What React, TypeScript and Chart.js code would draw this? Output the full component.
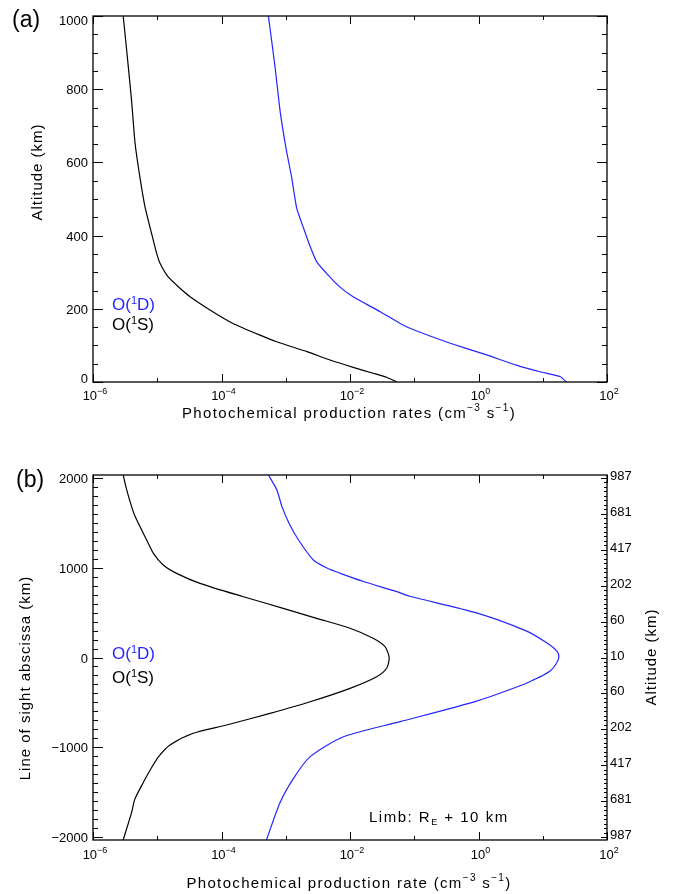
import React, { useEffect, useRef } from "react";
import { Chart, registerables } from "chart.js";

Chart.register(...registerables);

// ---------- data ----------
// Panel (a): altitude (km) vs photochemical production rate (cm^-3 s^-1)
const altS_a = [1000, 907, 770, 653, 560, 478, 407, 352, 325, 287, 256, 233, 197, 160, 128, 110, 83, 60, 40, 24, 13, 0];
const rateS_a = [2.95e-6, 3.34e-6, 3.98e-6, 4.51e-6, 5.37e-6, 6.46e-6, 8.13e-6, 9.77e-6, 1.1e-5, 1.48e-5, 2.26e-5, 3.24e-5, 6.61e-5, 1.51e-4, 3.98e-4, 7.24e-4, 2.14e-3, 4.9e-3, 1.12e-2, 2.29e-2, 3.72e-2, 5.37e-2];

const altD_a = [1000, 861, 743, 634, 561, 475, 424, 370, 329, 292, 260, 233, 192, 160, 142, 106, 74, 46, 28, 15, 0];
const rateD_a = [5.37e-4, 6.81e-4, 8.13e-4, 1.02e-3, 1.23e-3, 1.48e-3, 1.86e-3, 2.4e-3, 3.02e-3, 4.57e-3, 6.92e-3, 1.12e-2, 2.95e-2, 6.03e-2, 0.1, 0.363, 1.34, 3.89, 9.06, 18.6, 23.4];

// Panel (b): line of sight abscissa (km) vs production rate
const losS_b = [2030, 1867, 1681, 1570, 1307, 1159, 1029, 936, 825, 676, 547, 436, 325, 214, 120, 0, -120, -214, -343, -492, -621, -751, -843, -973, -1103, -1251, -1393, -1578, -1726, -2030];
const rateS_b = [2.95e-6, 3.34e-6, 3.98e-6, 4.51e-6, 6.85e-6, 8.71e-6, 1.24e-5, 2.0e-5, 4.62e-5, 2.19e-4, 9.12e-4, 3.02e-3, 1.0e-2, 2.29e-2, 3.51e-2, 4.07e-2, 3.72e-2, 2.6e-2, 1.0e-2, 2.4e-3, 5.69e-4, 1.2e-4, 3.63e-5, 1.58e-5, 1.05e-5, 7.76e-6, 6.03e-6, 4.47e-6, 3.98e-6, 2.95e-6];

const losD_b = [2030, 1867, 1681, 1496, 1307, 1085, 996, 936, 848, 732, 681, 496, 293, 163, 70, 0, -70, -148, -207, -241, -300, -485, -714, -881, -1103, -1344, -1615, -2030];
const rateD_b = [5.37e-4, 7.24e-4, 8.71e-4, 1.12e-3, 1.58e-3, 2.69e-3, 4.37e-3, 7.08e-3, 1.58e-2, 5.37e-2, 8.51e-2, 0.933, 5.62, 11.5, 16.6, 17.8, 16.2, 13.2, 9.55, 7.59, 5.01, 0.933, 6.03e-2, 7.94e-3, 2.4e-3, 1.32e-3, 8.13e-4, 5.01e-4];

// ---------- ticks / labels ----------
const xDecadeExps = [-6, -5, -4, -3, -2, -1, 0, 1, 2];
const xLabelExps = [-6, -4, -2, 0, 2];
const yTicksA = [0, 200, 400, 600, 800, 1000];
const yLabelsA = ["0", "200", "400", "600", "800", "1000"];
const yTicksB = [-2000, -1000, 0, 1000, 2000];
const yLabelsB = ["\u22122000", "\u22121000", "0", "1000", "2000"];
const altTickPos = [2000, 1600, 1200, 800, 400, 0, -400, -800, -1200, -1600, -2000];
const altTickLabels = ["987", "681", "417", "202", "60", "10", "60", "202", "417", "681", "987"];

const FONT = "'Liberation Sans', Arial, Helvetica, sans-serif";
const BLUE = "#2424ff";

type Run = [string, number, number];

function drawRuns(ctx: CanvasRenderingContext2D, runs: Run[], x: number, y: number, align: string, spacing = "0px") {
  const widths = runs.map((r) => {
    ctx.font = `${r[1]}px ${FONT}`;
    (ctx as any).letterSpacing = spacing;
    return ctx.measureText(r[0]).width;
  });
  const total = widths.reduce((a, b) => a + b, 0);
  let cx = align === "center" ? x - total / 2 : align === "right" ? x - total : x;
  ctx.textAlign = "left";
  ctx.textBaseline = "alphabetic";
  runs.forEach((r, i) => {
    ctx.font = `${r[1]}px ${FONT}`;
    (ctx as any).letterSpacing = spacing;
    ctx.fillText(r[0], cx, y + r[2]);
    cx += widths[i];
  });
  (ctx as any).letterSpacing = "0px";
}

function drawRotated(ctx: CanvasRenderingContext2D, runs: Run[], cx: number, cy: number, spacing: string) {
  ctx.save();
  ctx.translate(cx, cy);
  ctx.rotate(-Math.PI / 2);
  drawRuns(ctx, runs, 0, 5, "center", spacing);
  ctx.restore();
}

function makeDecor(panel: "a" | "b") {
  return {
    id: "decor" + panel,
    afterDatasetsDraw(chart: any) {
      const ctx: CanvasRenderingContext2D = chart.ctx;
      const { left, right, top, bottom } = chart.chartArea;
      const xs = chart.scales.x;
      const ys = chart.scales.y;
      ctx.save();
      ctx.strokeStyle = "#000";
      ctx.fillStyle = "#000";
      ctx.lineWidth = 1.3;
      ctx.strokeRect(left, top, right - left, bottom - top);
      ctx.lineWidth = 1;

      const tick = (x1: number, y1: number, x2: number, y2: number) => {
        ctx.beginPath();
        ctx.moveTo(x1, y1);
        ctx.lineTo(x2, y2);
        ctx.stroke();
      };

      // x ticks (bottom + top), inward
      xDecadeExps.forEach((e) => {
        const px = Math.round(xs.getPixelForValue(Math.pow(10, e))) + 0.5;
        const len = xLabelExps.includes(e) ? 8 : 4;
        tick(px, bottom, px, bottom - len);
        tick(px, top, px, top + len);
      });
      // x tick labels
      const xlabY = panel === "a" ? 400 : 419;
      xLabelExps.forEach((e) => {
        const px = xs.getPixelForValue(Math.pow(10, e));
        const runs: Run[] = [["10", 13, 0], [e < 0 ? "\u2212" + Math.abs(e) : String(e), 9, -6]];
        drawRuns(ctx, runs, px + 2, xlabY, "center");
      });

      // x title
      const xt = panel === "a" ? "Photochemical production rates (cm" : "Photochemical production rate (cm";
      drawRuns(
        ctx,
        [[xt, 15, 0], ["\u22123", 10, -7], [" s", 15, 0], ["\u22121", 10, -7], [")", 15, 0]],
        349,
        panel === "a" ? 418 : 448,
        "center",
        "1.35px"
      );

      if (panel === "a") {
        // y ticks left + right
        for (let v = 0; v <= 1000; v += 50) {
          const py = Math.round(ys.getPixelForValue(v)) + 0.5;
          const len = v % 200 === 0 ? 10 : 5;
          tick(left, py, left + len, py);
          tick(right, py, right - len, py);
        }
        yTicksA.forEach((v, i) => {
          let py = ys.getPixelForValue(v);
          py = Math.min(Math.max(py, top + 4), bottom - 4);
          drawRuns(ctx, [[yLabelsA[i], 13, 0]], left - 5, py + 5, "right");
        });
        drawRotated(ctx, [["Altitude (km)", 15, 0]], 37, 172, "1px");
        drawRuns(ctx, [["(a)", 23, 0]], 12, 27, "left");
        ctx.fillStyle = BLUE;
        drawRuns(ctx, [["O(", 17, 0], ["1", 11, -6], ["D)", 17, 0]], 112, 310, "left");
        ctx.fillStyle = "#000";
        drawRuns(ctx, [["O(", 17, 0], ["1", 11, -6], ["S)", 17, 0]], 112, 330, "left");
      } else {
        // left y ticks
        for (let v = -2000; v <= 2000; v += 100) {
          const py = Math.round(ys.getPixelForValue(v)) + 0.5;
          const len = v % 1000 === 0 ? 10 : 5;
          tick(left, py, left + len, py);
        }
        yTicksB.forEach((v, i) => {
          const py = ys.getPixelForValue(v);
          drawRuns(ctx, [[yLabelsB[i], 13, 0]], left - 5, py + 5, "right");
        });
        // right altitude ticks
        for (let v = -2000; v <= 2000; v += 50) {
          const py = Math.round(ys.getPixelForValue(v)) + 0.5;
          const len = v % 400 === 0 ? 6 : 3;
          tick(right, py, right - len, py);
        }
        altTickPos.forEach((v, i) => {
          const py = ys.getPixelForValue(v);
          drawRuns(ctx, [[altTickLabels[i], 13, 0]], right + 3, py + 2, "left");
        });
        drawRotated(ctx, [["Line of sight abscissa (km)", 15, 0]], 25, 238, "1px");
        drawRotated(ctx, [["Altitude (km)", 15, 0]], 651, 217, "1px");
        drawRuns(ctx, [["(b)", 23, 0]], 16, 47, "left");
        ctx.fillStyle = BLUE;
        drawRuns(ctx, [["O(", 17, 0], ["1", 11, -6], ["D)", 17, 0]], 112, 219, "left");
        ctx.fillStyle = "#000";
        drawRuns(ctx, [["O(", 17, 0], ["1", 11, -6], ["S)", 17, 0]], 112, 243, "left");
        drawRuns(ctx, [["Limb: R", 15, 0], ["E", 9, 3], [" + 10 km", 15, 0]], 369, 382, "left", "1.5px");
      }
      ctx.restore();
    },
  };
}

function toPoints(xsv: number[], ysv: number[]) {
  return xsv.map((x, i) => ({ x, y: ysv[i] }));
}

function Panel({ panel, height }: { panel: "a" | "b"; height: number }) {
  const ref = useRef<HTMLCanvasElement | null>(null);
  useEffect(() => {
    if (!ref.current) return;
    const isA = panel === "a";
    const t = isA ? 0.15 : 0.25;
    const datasets = isA
      ? [
          { data: toPoints(rateS_a, altS_a), borderColor: "#000", borderWidth: 1.2, showLine: true, pointRadius: 0, tension: t },
          { data: toPoints(rateD_a, altD_a), borderColor: BLUE, borderWidth: 1.2, showLine: true, pointRadius: 0, tension: t },
        ]
      : [
          { data: toPoints(rateS_b, losS_b), borderColor: "#000", borderWidth: 1.2, showLine: true, pointRadius: 0, tension: t },
          { data: toPoints(rateD_b, losD_b), borderColor: BLUE, borderWidth: 1.2, showLine: true, pointRadius: 0, tension: t },
        ];
    const chart = new Chart(ref.current, {
      type: "scatter",
      data: { datasets: datasets as any },
      options: {
        responsive: false,
        animation: false,
        devicePixelRatio: 1,
        layout: {
          padding: isA
            ? { left: 93, right: 69, top: 16, bottom: 58 }
            : { left: 93, right: 69, top: 35, bottom: 54 },
        },
        plugins: { legend: { display: false }, tooltip: { enabled: false } },
        scales: {
          x: { type: "logarithmic", min: 1e-6, max: 1e2, display: false },
          y: isA
            ? { type: "linear", min: 0, max: 1000, display: false }
            : { type: "linear", min: -2030, max: 2030, display: false },
        },
      } as any,
      plugins: [makeDecor(panel) as any],
    });
    return () => chart.destroy();
  }, [panel]);
  return <canvas ref={ref} width={676} height={height} style={{ display: "block" }} />;
}

export default function App() {
  return (
    <div style={{ position: "absolute", left: 0, top: 0, width: 676, height: 894, background: "#fff" }}>
      <Panel panel="a" height={440} />
      <Panel panel="b" height={454} />
    </div>
  );
}
